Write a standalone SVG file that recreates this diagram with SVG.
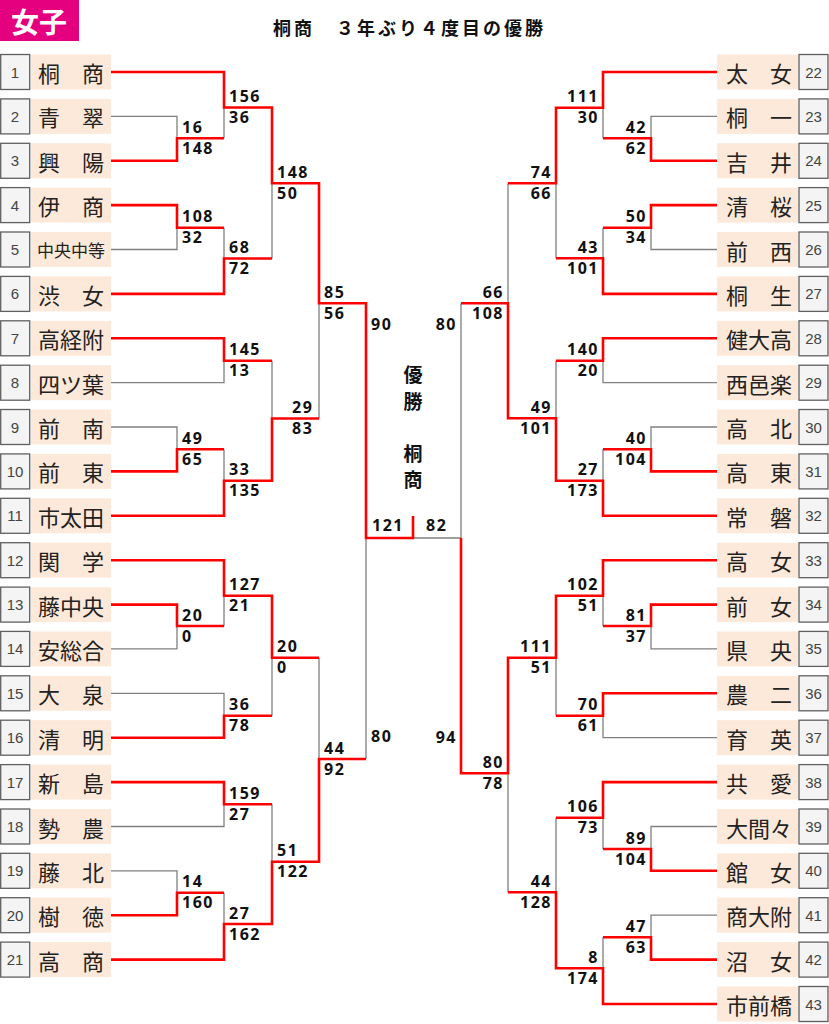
<svg xmlns="http://www.w3.org/2000/svg" width="829" height="1024" viewBox="0 0 829 1024">
<style>
.num{fill:#f4f4f4;stroke:#606060;stroke-width:1.3}
.nm{fill:#fde9d9}
.nt{font-family:"Liberation Sans",Arial,sans-serif;font-size:15px;fill:#444;text-anchor:middle;dominant-baseline:central}
.tn{font-family:"Noto Sans CJK JP","Noto Sans",sans-serif;font-size:22px;fill:#222;dominant-baseline:central}
.sm{font-size:17px}
.sc{font-family:"Noto Sans","Noto Sans CJK JP",sans-serif;font-size:16px;font-weight:bold;fill:#111;letter-spacing:1.5px}
.r{text-anchor:end}
.g{fill:none;stroke:#808080;stroke-width:1.3}
.w{fill:none;stroke:#ff0000;stroke-width:2.6}
.ct{font-family:"Noto Sans CJK JP",sans-serif;font-size:19px;font-weight:bold;fill:#111;text-anchor:middle;dominant-baseline:central}
</style>
<rect x="0" y="0" width="829" height="1024" fill="#ffffff"/>
<g id="header">
<rect x="0" y="0" width="79" height="41" fill="#e4007f"/>
<text x="11" y="21" font-family="'Noto Sans CJK JP',sans-serif" font-size="28" font-weight="bold" fill="#ffffff" dominant-baseline="central">女子</text>
<text x="273" y="27" font-family="'Noto Sans CJK JP',sans-serif" font-size="18" font-weight="bold" fill="#111" dominant-baseline="central" textLength="270" lengthAdjust="spacing">桐商　３年ぶり４度目の優勝</text>
</g>
<g id="champion">
<text class="ct" x="413 413" y="373 400">優勝</text>
<text class="ct" x="413 413" y="452 478">桐商</text>
</g>
<g id="connectors">
<path class="g" d="M111,116.4H177V138.3M111,249.5H177V227.7M224,107.5V138.3M224,227.7V258.5M272,183.3V258.5M111,382.7H224V360.7M111,427H177V449.3M224,449.3V480.7M272,360.7V418.5M319,303.3V418.5M111,648.9H177V626M224,595.7V626M111,693.3H224V715.7M272,657.7V715.7M319,657.7V759M111,826.5H224V804.3M111,870.8H177V892.7M272,804.3V861.7M224,892.7V924M366,538V759M413,538H461"/>
<path class="g" d="M717,116.4H651V138.3M603,107.7V138.3M717,249.5H651V227.7M603,227.7V258.3M556,183.3V258.3M508,183.3V303.3M717,382.7H603V360.7M556,360.7V418.3M717,427H651V449.3M603,449.3V480.7M461,303.3V538M717,648.9H651V626M603,595.7V626M556,657.7V715.7M717,737.7H603V715.7M508,773.3V892.3M717,826.5H651V849M603,817.7V849M556,817.7V892.3M717,915.2H651V937.3M603,937.3V968.3"/>
<path class="w" d="M111,72H224V107.5H272V183.3H319V303.3H366V538H413V516"/>
<path class="w" d="M111,160.8H177V138.3H224"/>
<path class="w" d="M111,205.1H177V227.7H224"/>
<path class="w" d="M111,293.9H224V258.5H272"/>
<path class="w" d="M111,338.3H224V360.7H272"/>
<path class="w" d="M111,471.4H177V449.3H224"/>
<path class="w" d="M111,515.8H224V480.7H272V418.5H319"/>
<path class="w" d="M111,560.2H224V595.7H272V657.7H319"/>
<path class="w" d="M111,604.6H177V626H224"/>
<path class="w" d="M111,737.7H224V715.7H272"/>
<path class="w" d="M111,782.1H224V804.3H272"/>
<path class="w" d="M111,915.2H177V892.7H224"/>
<path class="w" d="M111,959.6H224V924H272V861.7H319V759H366"/>
<path class="w" d="M717,72H603V107.7H556V183.3H508"/>
<path class="w" d="M717,160.8H651V138.3H603"/>
<path class="w" d="M717,205.1H651V227.7H603"/>
<path class="w" d="M717,293.9H603V258.3H556"/>
<path class="w" d="M717,338.3H603V360.7H556"/>
<path class="w" d="M717,471.4H651V449.3H603"/>
<path class="w" d="M717,515.8H603V480.7H556V418.3H508V303.3H461"/>
<path class="w" d="M717,560.2H603V595.7H556V657.7H508V773.3H461V538"/>
<path class="w" d="M717,604.6H651V626H603"/>
<path class="w" d="M717,693.3H603V715.7H556"/>
<path class="w" d="M717,782.1H603V817.7H556"/>
<path class="w" d="M717,870.8H651V849H603"/>
<path class="w" d="M717,959.6H651V937.3H603"/>
<path class="w" d="M717,1004H603V968.3H556V892.3H508"/>
</g>
<g id="scores">
<text class="sc" x="182" y="132.8">16</text><text class="sc" x="182" y="153.8">148</text>
<text class="sc" x="229" y="102">156</text><text class="sc" x="229" y="123">36</text>
<text class="sc" x="182" y="222.2">108</text><text class="sc" x="182" y="243.2">32</text>
<text class="sc" x="229" y="253">68</text><text class="sc" x="229" y="274">72</text>
<text class="sc" x="277" y="177.8">148</text><text class="sc" x="277" y="198.8">50</text>
<text class="sc" x="324" y="297.8">85</text><text class="sc" x="324" y="318.8">56</text>
<text class="sc" x="229" y="355.2">145</text><text class="sc" x="229" y="376.2">13</text>
<text class="sc" x="182" y="443.8">49</text><text class="sc" x="182" y="464.8">65</text>
<text class="sc" x="229" y="475.2">33</text><text class="sc" x="229" y="496.2">135</text>
<text class="sc" x="292" y="413">29</text><text class="sc" x="292" y="434">83</text>
<text class="sc" x="182" y="620.5">20</text><text class="sc" x="182" y="641.5">0</text>
<text class="sc" x="229" y="590.2">127</text><text class="sc" x="229" y="611.2">21</text>
<text class="sc" x="229" y="710.2">36</text><text class="sc" x="229" y="731.2">78</text>
<text class="sc" x="277" y="652.2">20</text><text class="sc" x="277" y="673.2">0</text>
<text class="sc" x="229" y="798.8">159</text><text class="sc" x="229" y="819.8">27</text>
<text class="sc" x="182" y="887.2">14</text><text class="sc" x="182" y="908.2">160</text>
<text class="sc" x="229" y="918.5">27</text><text class="sc" x="229" y="939.5">162</text>
<text class="sc" x="277" y="856.2">51</text><text class="sc" x="277" y="877.2">122</text>
<text class="sc" x="324" y="753.5">44</text><text class="sc" x="324" y="774.5">92</text>
<text class="sc" x="371" y="329.5">90</text>
<text class="sc" x="371" y="742">80</text>
<text class="sc" x="372" y="531">121</text>
<text class="sc" x="426" y="531">82</text>
<text class="sc r" x="457" y="329.5">80</text>
<text class="sc r" x="457" y="742.5">94</text>
<text class="sc r" x="647" y="132.8">42</text><text class="sc r" x="647" y="153.8">62</text>
<text class="sc r" x="599" y="102.2">111</text><text class="sc r" x="599" y="123.2">30</text>
<text class="sc r" x="647" y="222.2">50</text><text class="sc r" x="647" y="243.2">34</text>
<text class="sc r" x="599" y="252.8">43</text><text class="sc r" x="599" y="273.8">101</text>
<text class="sc r" x="552" y="177.8">74</text><text class="sc r" x="552" y="198.8">66</text>
<text class="sc r" x="504" y="297.8">66</text><text class="sc r" x="504" y="318.8">108</text>
<text class="sc r" x="599" y="355.2">140</text><text class="sc r" x="599" y="376.2">20</text>
<text class="sc r" x="647" y="443.8">40</text><text class="sc r" x="647" y="464.8">104</text>
<text class="sc r" x="599" y="475.2">27</text><text class="sc r" x="599" y="496.2">173</text>
<text class="sc r" x="552" y="412.8">49</text><text class="sc r" x="552" y="433.8">101</text>
<text class="sc r" x="647" y="620.5">81</text><text class="sc r" x="647" y="641.5">37</text>
<text class="sc r" x="599" y="590.2">102</text><text class="sc r" x="599" y="611.2">51</text>
<text class="sc r" x="552" y="652.2">111</text><text class="sc r" x="552" y="673.2">51</text>
<text class="sc r" x="599" y="710.2">70</text><text class="sc r" x="599" y="731.2">61</text>
<text class="sc r" x="504" y="767.8">80</text><text class="sc r" x="504" y="788.8">78</text>
<text class="sc r" x="647" y="843.5">89</text><text class="sc r" x="647" y="864.5">104</text>
<text class="sc r" x="599" y="812.2">106</text><text class="sc r" x="599" y="833.2">73</text>
<text class="sc r" x="647" y="931.8">47</text><text class="sc r" x="647" y="952.8">63</text>
<text class="sc r" x="599" y="962.8">8</text><text class="sc r" x="599" y="983.8">174</text>
<text class="sc r" x="552" y="886.8">44</text><text class="sc r" x="552" y="907.8">128</text>
</g>
<g id="team-1"><rect class="num" x="0.7" y="54.5" width="29" height="35"/><text class="nt" x="15" y="72">1</text><rect class="nm" x="31" y="54.5" width="80" height="35"/><text class="tn" x="38" y="72">桐　商</text></g>
<g id="team-2"><rect class="num" x="0.7" y="98.9" width="29" height="35"/><text class="nt" x="15" y="116.4">2</text><rect class="nm" x="31" y="98.9" width="80" height="35"/><text class="tn" x="38" y="116.4">青　翠</text></g>
<g id="team-3"><rect class="num" x="0.7" y="143.3" width="29" height="35"/><text class="nt" x="15" y="160.8">3</text><rect class="nm" x="31" y="143.3" width="80" height="35"/><text class="tn" x="38" y="160.8">興　陽</text></g>
<g id="team-4"><rect class="num" x="0.7" y="187.6" width="29" height="35"/><text class="nt" x="15" y="205.1">4</text><rect class="nm" x="31" y="187.6" width="80" height="35"/><text class="tn" x="38" y="205.1">伊　商</text></g>
<g id="team-5"><rect class="num" x="0.7" y="232" width="29" height="35"/><text class="nt" x="15" y="249.5">5</text><rect class="nm" x="31" y="232" width="80" height="35"/><text class="tn sm" x="37" y="249.5">中央中等</text></g>
<g id="team-6"><rect class="num" x="0.7" y="276.4" width="29" height="35"/><text class="nt" x="15" y="293.9">6</text><rect class="nm" x="31" y="276.4" width="80" height="35"/><text class="tn" x="38" y="293.9">渋　女</text></g>
<g id="team-7"><rect class="num" x="0.7" y="320.8" width="29" height="35"/><text class="nt" x="15" y="338.3">7</text><rect class="nm" x="31" y="320.8" width="80" height="35"/><text class="tn" x="38" y="338.3">高経附</text></g>
<g id="team-8"><rect class="num" x="0.7" y="365.2" width="29" height="35"/><text class="nt" x="15" y="382.7">8</text><rect class="nm" x="31" y="365.2" width="80" height="35"/><text class="tn" x="38" y="382.7">四ツ葉</text></g>
<g id="team-9"><rect class="num" x="0.7" y="409.5" width="29" height="35"/><text class="nt" x="15" y="427">9</text><rect class="nm" x="31" y="409.5" width="80" height="35"/><text class="tn" x="38" y="427">前　南</text></g>
<g id="team-10"><rect class="num" x="0.7" y="453.9" width="29" height="35"/><text class="nt" x="15" y="471.4">10</text><rect class="nm" x="31" y="453.9" width="80" height="35"/><text class="tn" x="38" y="471.4">前　東</text></g>
<g id="team-11"><rect class="num" x="0.7" y="498.3" width="29" height="35"/><text class="nt" x="15" y="515.8">11</text><rect class="nm" x="31" y="498.3" width="80" height="35"/><text class="tn" x="38" y="515.8">市太田</text></g>
<g id="team-12"><rect class="num" x="0.7" y="542.7" width="29" height="35"/><text class="nt" x="15" y="560.2">12</text><rect class="nm" x="31" y="542.7" width="80" height="35"/><text class="tn" x="38" y="560.2">関　学</text></g>
<g id="team-13"><rect class="num" x="0.7" y="587.1" width="29" height="35"/><text class="nt" x="15" y="604.6">13</text><rect class="nm" x="31" y="587.1" width="80" height="35"/><text class="tn" x="38" y="604.6">藤中央</text></g>
<g id="team-14"><rect class="num" x="0.7" y="631.4" width="29" height="35"/><text class="nt" x="15" y="648.9">14</text><rect class="nm" x="31" y="631.4" width="80" height="35"/><text class="tn" x="38" y="648.9">安総合</text></g>
<g id="team-15"><rect class="num" x="0.7" y="675.8" width="29" height="35"/><text class="nt" x="15" y="693.3">15</text><rect class="nm" x="31" y="675.8" width="80" height="35"/><text class="tn" x="38" y="693.3">大　泉</text></g>
<g id="team-16"><rect class="num" x="0.7" y="720.2" width="29" height="35"/><text class="nt" x="15" y="737.7">16</text><rect class="nm" x="31" y="720.2" width="80" height="35"/><text class="tn" x="38" y="737.7">清　明</text></g>
<g id="team-17"><rect class="num" x="0.7" y="764.6" width="29" height="35"/><text class="nt" x="15" y="782.1">17</text><rect class="nm" x="31" y="764.6" width="80" height="35"/><text class="tn" x="38" y="782.1">新　島</text></g>
<g id="team-18"><rect class="num" x="0.7" y="809" width="29" height="35"/><text class="nt" x="15" y="826.5">18</text><rect class="nm" x="31" y="809" width="80" height="35"/><text class="tn" x="38" y="826.5">勢　農</text></g>
<g id="team-19"><rect class="num" x="0.7" y="853.3" width="29" height="35"/><text class="nt" x="15" y="870.8">19</text><rect class="nm" x="31" y="853.3" width="80" height="35"/><text class="tn" x="38" y="870.8">藤　北</text></g>
<g id="team-20"><rect class="num" x="0.7" y="897.7" width="29" height="35"/><text class="nt" x="15" y="915.2">20</text><rect class="nm" x="31" y="897.7" width="80" height="35"/><text class="tn" x="38" y="915.2">樹　徳</text></g>
<g id="team-21"><rect class="num" x="0.7" y="942.1" width="29" height="35"/><text class="nt" x="15" y="959.6">21</text><rect class="nm" x="31" y="942.1" width="80" height="35"/><text class="tn" x="38" y="959.6">高　商</text></g>
<g id="team-22"><rect class="nm" x="717" y="54.5" width="81" height="35"/><text class="tn" x="726" y="72">太　女</text><rect class="num" x="799" y="54.5" width="29" height="35"/><text class="nt" x="813.5" y="72">22</text></g>
<g id="team-23"><rect class="nm" x="717" y="98.9" width="81" height="35"/><text class="tn" x="726" y="116.4">桐　一</text><rect class="num" x="799" y="98.9" width="29" height="35"/><text class="nt" x="813.5" y="116.4">23</text></g>
<g id="team-24"><rect class="nm" x="717" y="143.3" width="81" height="35"/><text class="tn" x="726" y="160.8">吉　井</text><rect class="num" x="799" y="143.3" width="29" height="35"/><text class="nt" x="813.5" y="160.8">24</text></g>
<g id="team-25"><rect class="nm" x="717" y="187.6" width="81" height="35"/><text class="tn" x="726" y="205.1">清　桜</text><rect class="num" x="799" y="187.6" width="29" height="35"/><text class="nt" x="813.5" y="205.1">25</text></g>
<g id="team-26"><rect class="nm" x="717" y="232" width="81" height="35"/><text class="tn" x="726" y="249.5">前　西</text><rect class="num" x="799" y="232" width="29" height="35"/><text class="nt" x="813.5" y="249.5">26</text></g>
<g id="team-27"><rect class="nm" x="717" y="276.4" width="81" height="35"/><text class="tn" x="726" y="293.9">桐　生</text><rect class="num" x="799" y="276.4" width="29" height="35"/><text class="nt" x="813.5" y="293.9">27</text></g>
<g id="team-28"><rect class="nm" x="717" y="320.8" width="81" height="35"/><text class="tn" x="726" y="338.3">健大高</text><rect class="num" x="799" y="320.8" width="29" height="35"/><text class="nt" x="813.5" y="338.3">28</text></g>
<g id="team-29"><rect class="nm" x="717" y="365.2" width="81" height="35"/><text class="tn" x="726" y="382.7">西邑楽</text><rect class="num" x="799" y="365.2" width="29" height="35"/><text class="nt" x="813.5" y="382.7">29</text></g>
<g id="team-30"><rect class="nm" x="717" y="409.5" width="81" height="35"/><text class="tn" x="726" y="427">高　北</text><rect class="num" x="799" y="409.5" width="29" height="35"/><text class="nt" x="813.5" y="427">30</text></g>
<g id="team-31"><rect class="nm" x="717" y="453.9" width="81" height="35"/><text class="tn" x="726" y="471.4">高　東</text><rect class="num" x="799" y="453.9" width="29" height="35"/><text class="nt" x="813.5" y="471.4">31</text></g>
<g id="team-32"><rect class="nm" x="717" y="498.3" width="81" height="35"/><text class="tn" x="726" y="515.8">常　磐</text><rect class="num" x="799" y="498.3" width="29" height="35"/><text class="nt" x="813.5" y="515.8">32</text></g>
<g id="team-33"><rect class="nm" x="717" y="542.7" width="81" height="35"/><text class="tn" x="726" y="560.2">高　女</text><rect class="num" x="799" y="542.7" width="29" height="35"/><text class="nt" x="813.5" y="560.2">33</text></g>
<g id="team-34"><rect class="nm" x="717" y="587.1" width="81" height="35"/><text class="tn" x="726" y="604.6">前　女</text><rect class="num" x="799" y="587.1" width="29" height="35"/><text class="nt" x="813.5" y="604.6">34</text></g>
<g id="team-35"><rect class="nm" x="717" y="631.4" width="81" height="35"/><text class="tn" x="726" y="648.9">県　央</text><rect class="num" x="799" y="631.4" width="29" height="35"/><text class="nt" x="813.5" y="648.9">35</text></g>
<g id="team-36"><rect class="nm" x="717" y="675.8" width="81" height="35"/><text class="tn" x="726" y="693.3">農　二</text><rect class="num" x="799" y="675.8" width="29" height="35"/><text class="nt" x="813.5" y="693.3">36</text></g>
<g id="team-37"><rect class="nm" x="717" y="720.2" width="81" height="35"/><text class="tn" x="726" y="737.7">育　英</text><rect class="num" x="799" y="720.2" width="29" height="35"/><text class="nt" x="813.5" y="737.7">37</text></g>
<g id="team-38"><rect class="nm" x="717" y="764.6" width="81" height="35"/><text class="tn" x="726" y="782.1">共　愛</text><rect class="num" x="799" y="764.6" width="29" height="35"/><text class="nt" x="813.5" y="782.1">38</text></g>
<g id="team-39"><rect class="nm" x="717" y="809" width="81" height="35"/><text class="tn" x="726" y="826.5">大間々</text><rect class="num" x="799" y="809" width="29" height="35"/><text class="nt" x="813.5" y="826.5">39</text></g>
<g id="team-40"><rect class="nm" x="717" y="853.3" width="81" height="35"/><text class="tn" x="726" y="870.8">館　女</text><rect class="num" x="799" y="853.3" width="29" height="35"/><text class="nt" x="813.5" y="870.8">40</text></g>
<g id="team-41"><rect class="nm" x="717" y="897.7" width="81" height="35"/><text class="tn" x="726" y="915.2">商大附</text><rect class="num" x="799" y="897.7" width="29" height="35"/><text class="nt" x="813.5" y="915.2">41</text></g>
<g id="team-42"><rect class="nm" x="717" y="942.1" width="81" height="35"/><text class="tn" x="726" y="959.6">沼　女</text><rect class="num" x="799" y="942.1" width="29" height="35"/><text class="nt" x="813.5" y="959.6">42</text></g>
<g id="team-43"><rect class="nm" x="717" y="986.5" width="81" height="35"/><text class="tn" x="726" y="1004">市前橋</text><rect class="num" x="799" y="986.5" width="29" height="35"/><text class="nt" x="813.5" y="1004">43</text></g>
</svg>
